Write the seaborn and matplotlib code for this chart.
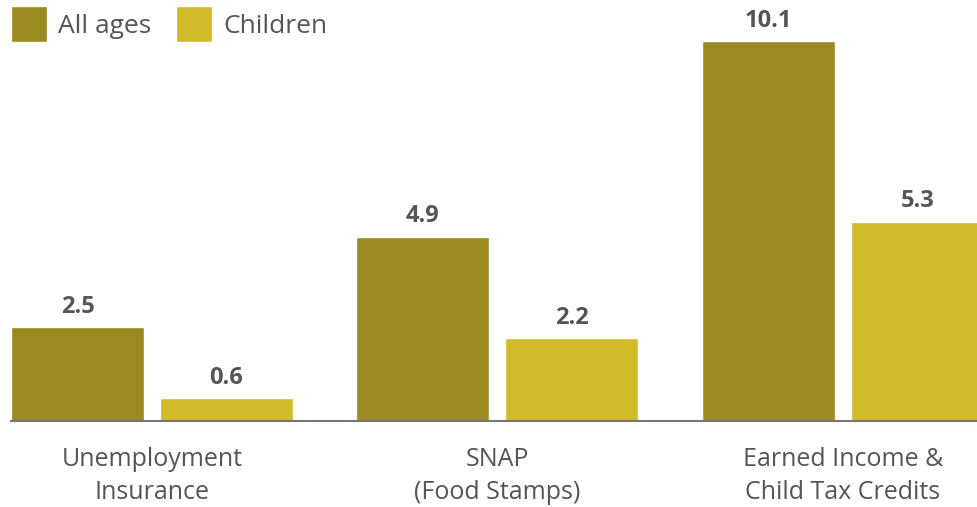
import matplotlib
matplotlib.use("Agg")
import matplotlib.pyplot as plt
import seaborn as sns
import pandas as pd

# Benefit programs and people lifted out of poverty (millions)
programs = ["Unemployment\nInsurance", "SNAP\n(Food Stamps)", "Earned Income &\nChild Tax Credits"]
all_ages = [2.5, 4.9, 10.1]
children = [0.6, 2.2, 5.3]
groups = ["All ages", "Children"]
colors = ["#9A8A1F", "#D3BA29"]

df = pd.DataFrame({
    "program": programs * 2,
    "group": [groups[0]] * 3 + [groups[1]] * 3,
    "value": all_ages + children,
})

sns.set_theme(style="white")
plt.rcParams["font.family"] = ["Open Sans", "DejaVu Sans"]

fig = plt.figure(figsize=(9.77, 5.07), dpi=100)
ax = fig.add_axes([11 / 977, 86 / 507, 966 / 977, 421 / 507])

sns.barplot(data=df, x="program", y="value", hue="group", palette=colors,
            width=0.8625, gap=0.107, saturation=1, ax=ax, legend=True)

ax.set_xlim(-0.408, 2.388)
ax.set_ylim(0, 11.2)
ax.set_xlabel("")
ax.set_ylabel("")
ax.set_yticks([])
for side in ["top", "right", "left"]:
    ax.spines[side].set_visible(False)
ax.spines["bottom"].set_color("#777777")
ax.spines["bottom"].set_linewidth(1.5)
ax.tick_params(axis="x", length=0, pad=19, labelsize=18, labelcolor="#555555")
for lbl in ax.get_xticklabels():
    lbl.set_linespacing(1.4)

for cont in ax.containers:
    ax.bar_label(cont, labels=[f"{v:.1f}" for v in cont.datavalues], padding=6,
                 fontsize=17, fontweight="bold", color="#555555")

sns.move_legend(ax, "upper left", bbox_to_anchor=(0.0, 0.985), ncol=2,
                frameon=False, title=None, fontsize=19, handlelength=1.36,
                handleheight=1.72, handletextpad=0.42, columnspacing=0.95,
                borderaxespad=0, borderpad=0, labelcolor="#555555")

fig.savefig("out.png", dpi=100)
